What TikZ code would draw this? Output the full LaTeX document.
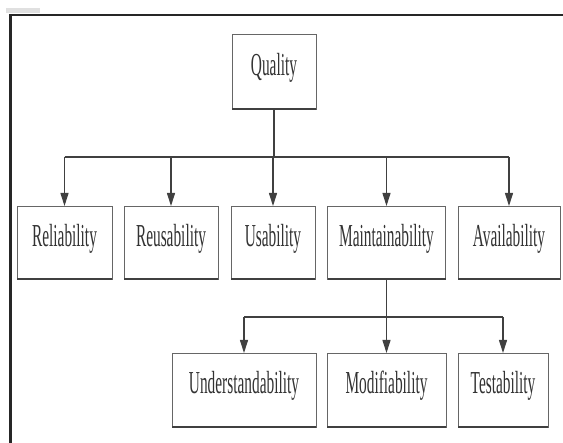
\documentclass[tikz,border=0pt]{standalone}
\usepackage{graphicx}
\usepackage{fontspec}
\setmainfont{Liberation Serif}
\usetikzlibrary{arrows.meta}
\newcommand{\narrowtext}[1]{\scalebox{0.48}[1]{#1}}
\tikzset{
  qbox/.style={draw=black!60,line width=0.9pt,inner sep=0pt,outer sep=0pt,
    text=black!80,text height=20pt,text depth=12pt,
    font=\fontsize{32}{32}\selectfont},
  link/.style={draw=black!75,line width=1.1pt},
}
\begin{document}
\begin{tikzpicture}[x=1pt,y=-1pt,>={Triangle[length=13pt,width=8pt]}]
        \useasboundingbox (0,0) rectangle (563,443);
        \fill[white] (0,0) rectangle (563,443);
        \fill[black!12] (6,8) rectangle (40,13);
        \draw[line width=2.5pt,black!85] (10.7,443)--(10.7,15)--(563,15);
        % top
        \node[qbox,minimum width=84pt,minimum height=75pt] (quality) at (274,71.5) {\narrowtext{Quality}};
        % first level
        \node[qbox,minimum width=95pt,minimum height=73pt] (rel) at (64.5,242.5) {\narrowtext{Reliability}};
        \node[qbox,minimum width=94pt,minimum height=73pt] (reu) at (171,242.5) {\narrowtext{Reusability}};
        \node[qbox,minimum width=84pt,minimum height=73pt] (usa) at (273,242.5) {\narrowtext{Usability}};
        \node[qbox,minimum width=118pt,minimum height=73pt] (mai) at (386.5,242.5) {\narrowtext{Maintainability}};
        \node[qbox,minimum width=102pt,minimum height=73pt] (ava) at (509,242.5) {\narrowtext{Availability}};
        % second level
        \node[qbox,minimum width=144pt,minimum height=74pt] (und) at (244,390) {\narrowtext{Understandability}};
        \node[qbox,minimum width=119pt,minimum height=74pt] (mod) at (386.5,390) {\narrowtext{Modifiability}};
        \node[qbox,minimum width=90pt,minimum height=74pt] (tes) at (503,390) {\narrowtext{Testability}};
        \foreach \n in {quality,rel,reu,usa,mai,ava,und,mod,tes}
            \draw[line width=1.8pt,black!75] (\n.south west)--(\n.south east);
        \coordinate (bar) at (0,157);
        \coordinate (subbar) at (0,317);
        \draw[link] (quality.south)--(quality|-bar);
        \draw[link] (rel|-bar)--(ava|-bar);
        \foreach \n in {rel,reu,usa,mai,ava}
            \draw[link,->] (\n|-bar)--(\n.north);
        \draw[link] (mai.south)--(mai|-subbar);
        \draw[link] (und|-subbar)--(tes|-subbar);
        \foreach \n in {und,mod,tes}
            \draw[link,->] (\n|-subbar)--(\n.north);
    \end{tikzpicture}
\end{document}
